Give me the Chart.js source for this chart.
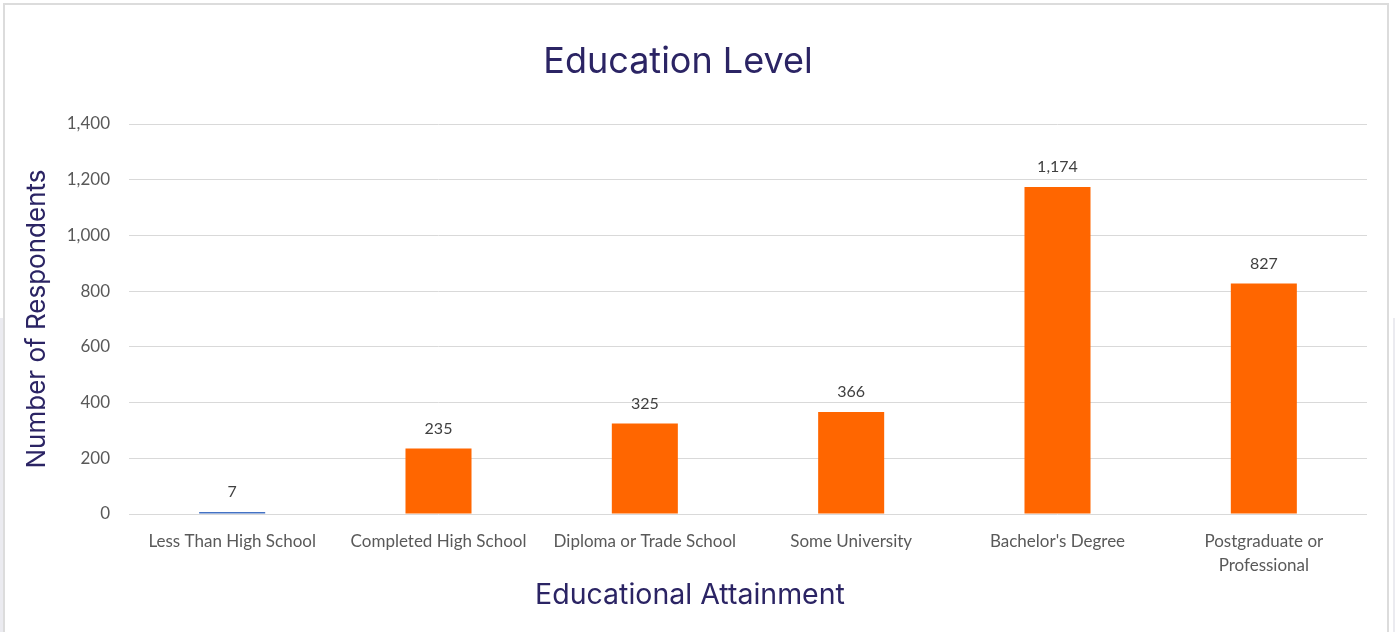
<!DOCTYPE html>
<html>
<head>
<meta charset="utf-8">
<title>Education Level</title>
<script src="https://cdn.jsdelivr.net/npm/chart.js@4.4.1/dist/chart.umd.min.js"></script>
<style>
  html, body { margin: 0; padding: 0; background: #fff; overflow: hidden; }
  .strip { position: absolute; top: 318px; height: 400px; background: #ebebf0; }
  #stripLeft  { left: 0; width: 3px; }
  #stripRight { left: 1393px; width: 10px; }
  #frame {
    position: absolute; left: 3px; top: 3px; width: 1386px; height: 700px;
    border: 2px solid #dcdcdc; background: #fff; box-sizing: border-box;
  }
  #wrap { position: absolute; left: 0; top: 0; width: 1395px; height: 632px; }
</style>
</head>
<body>
<div class="strip" id="stripLeft"></div>
<div class="strip" id="stripRight"></div>
<div id="frame"></div>
<div id="wrap"><canvas id="eduChart"></canvas></div>
<script>
/* ---------- data ---------- */
const categories = [
  "Less Than High School",
  "Completed High School",
  "Diploma or Trade School",
  "Some University",
  "Bachelor's Degree",
  ["Postgraduate or", "Professional"]
];
const respondents = [7, 235, 325, 366, 1174, 827];
const barColors = ["#4472c4", "#ff6600", "#ff6600", "#ff6600", "#ff6600", "#ff6600"];
const yTicks = [0, 200, 400, 600, 800, 1000, 1200, 1400];

const NAVY = "#2b2464";
const TICK = "#595959";

/* ---------- text overlay: titles + value labels ---------- */
const overlay = {
  id: "overlay",
  afterDatasetsDraw(chart) {
    const { ctx, chartArea } = chart;
    ctx.save();
    ctx.textAlign = "center";
    ctx.textBaseline = "middle";

    // value labels above each bar
    ctx.fillStyle = "#404040";
    ctx.font = "16px Lato, sans-serif";
    chart.getDatasetMeta(0).data.forEach((bar, i) => {
      ctx.fillText(respondents[i].toLocaleString("en-US"), bar.x, bar.y - 20);
    });

    // chart title
    ctx.fillStyle = NAVY;
    ctx.font = "36px Inter, sans-serif";
    ctx.fillText("Education Level", 678, 62);

    // x axis title
    ctx.font = "28.5px Inter, sans-serif";
    ctx.fillText("Educational Attainment", 690, 595);

    // y axis title
    ctx.translate(37, (chartArea.top + chartArea.bottom) / 2);
    ctx.rotate(-Math.PI / 2);
    ctx.font = "26px Inter, sans-serif";
    ctx.fillText("Number of Respondents", 0, 0);
    ctx.restore();
  }
};

/* ---------- chart ---------- */
new Chart(document.getElementById("eduChart"), {
  type: "bar",
  data: {
    labels: categories,
    datasets: [{
      data: respondents,
      backgroundColor: barColors,
      borderWidth: 0,
      barPercentage: 0.32,
      categoryPercentage: 1
    }]
  },
  options: {
    responsive: true,
    maintainAspectRatio: false,
    animation: false,
    layout: { padding: { left: 0, top: 124, right: 28, bottom: 0 } },
    plugins: { legend: { display: false }, tooltip: { enabled: false } },
    scales: {
      x: {
        grid: { display: false },
        border: { display: false },
        ticks: {
          color: TICK,
          font: { family: "Lato, sans-serif", size: 17, lineHeight: 1.4 },
          padding: 8,
          maxRotation: 0,
          autoSkip: false
        },
        afterFit: s => { s.height = 118; }
      },
      y: {
        min: 0,
        max: 1400,
        grid: { color: "#d9d9d9", lineWidth: 1, drawTicks: false },
        border: { display: false },
        afterBuildTicks: s => { s.ticks = yTicks.map(v => ({ value: v })); },
        ticks: {
          color: TICK,
          font: { family: "Lato, sans-serif", size: 17 },
          padding: 19,
          callback: v => v.toLocaleString("en-US")
        },
        afterFit: s => { s.width = 129; }
      }
    }
  },
  plugins: [overlay]
});
</script>
</body>
</html>
